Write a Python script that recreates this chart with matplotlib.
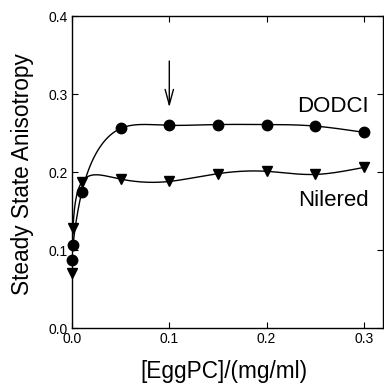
"""Steady-state anisotropy of DODCI and Nilered vs EggPC concentration."""
import numpy as np
import matplotlib; matplotlib.use("Agg")
import matplotlib.pyplot as plt

plt.rcParams["font.family"] = ["Liberation Sans", "DejaVu Sans"]

# data
dodci_x = [0.0, 0.001, 0.01, 0.05, 0.10, 0.15, 0.20, 0.25, 0.30]
dodci_y = [0.087, 0.106, 0.174, 0.256, 0.260, 0.261, 0.261, 0.259, 0.251]
nile_x = [0.0, 0.001, 0.01, 0.05, 0.10, 0.15, 0.20, 0.25, 0.30]
nile_y = [0.071, 0.128, 0.187, 0.191, 0.188, 0.198, 0.201, 0.197, 0.206]
xticks = [0.0, 0.1, 0.2, 0.3]
yticks = [0.0, 0.1, 0.2, 0.3, 0.4]


def natural_spline(x, y, n=800):
    """Natural cubic spline through (x, y), fitted in sqrt(x) so the crowded points near zero behave."""
    u = np.sqrt(np.asarray(x, float)); y = np.asarray(y, float)
    k = len(u); h = np.diff(u)
    A = np.zeros((k, k)); r = np.zeros(k)
    A[0, 0] = A[-1, -1] = 1.0
    for i in range(1, k - 1):
        A[i, i - 1] = h[i - 1]; A[i, i] = 2 * (h[i - 1] + h[i]); A[i, i + 1] = h[i]
        r[i] = 6 * ((y[i + 1] - y[i]) / h[i] - (y[i] - y[i - 1]) / h[i - 1])
    m = np.linalg.solve(A, r)
    us = np.linspace(u[0], u[-1], n)
    j = np.clip(np.searchsorted(u, us) - 1, 0, k - 2)
    t0 = u[j + 1] - us; t1 = us - u[j]
    ys = (m[j] * t0**3 + m[j + 1] * t1**3) / (6 * h[j]) \
        + (y[j] / h[j] - m[j] * h[j] / 6) * t0 + (y[j + 1] / h[j] - m[j + 1] * h[j] / 6) * t1
    return us**2, ys


fig = plt.figure(figsize=(3.84, 3.85), dpi=100)
ax = fig.add_axes([0.1875, 0.148, 0.8095, 0.81])

for xv, yv, mk in [(dodci_x, dodci_y, "o"), (nile_x, nile_y, "v")]:
    xs, ys = natural_spline(xv, yv)
    ax.plot(xs, ys, color="k", lw=1)
    ax.plot(xv, yv, mk, color="k", ms=7.5, ls="none", clip_on=False)

ax.annotate("", xy=(0.1, 0.2795), xytext=(0.1, 0.346),
            arrowprops=dict(arrowstyle="->,head_length=1.1,head_width=0.3", color="k", lw=1))
ax.text(0.3055, 0.271, "DODCI", ha="right", va="bottom", fontsize=16)
ax.text(0.3055, 0.150, "Nilered", ha="right", va="bottom", fontsize=16)

ax.set_xlim(0, 0.3195); ax.set_ylim(0, 0.4)
ax.set_xticks(xticks); ax.set_yticks(yticks)
ax.set_xticklabels([f"{v:.1f}" for v in xticks], fontsize=10)
ax.set_yticklabels([f"{v:.1f}" for v in yticks], fontsize=10)
ax.tick_params(direction="in", length=4.5, width=0.8, top=True, right=True, pad=3)
ax.set_xlabel("[EggPC]/(mg/ml)", fontsize=16.3)
ax.set_ylabel("Steady State Anisotropy", fontsize=16.3)
ax.xaxis.set_label_coords(0.489, -0.102)
ax.yaxis.set_label_coords(-0.122, 0.495)
for s in ax.spines.values():
    s.set_linewidth(1)

fig.savefig("out.png", dpi=100)
